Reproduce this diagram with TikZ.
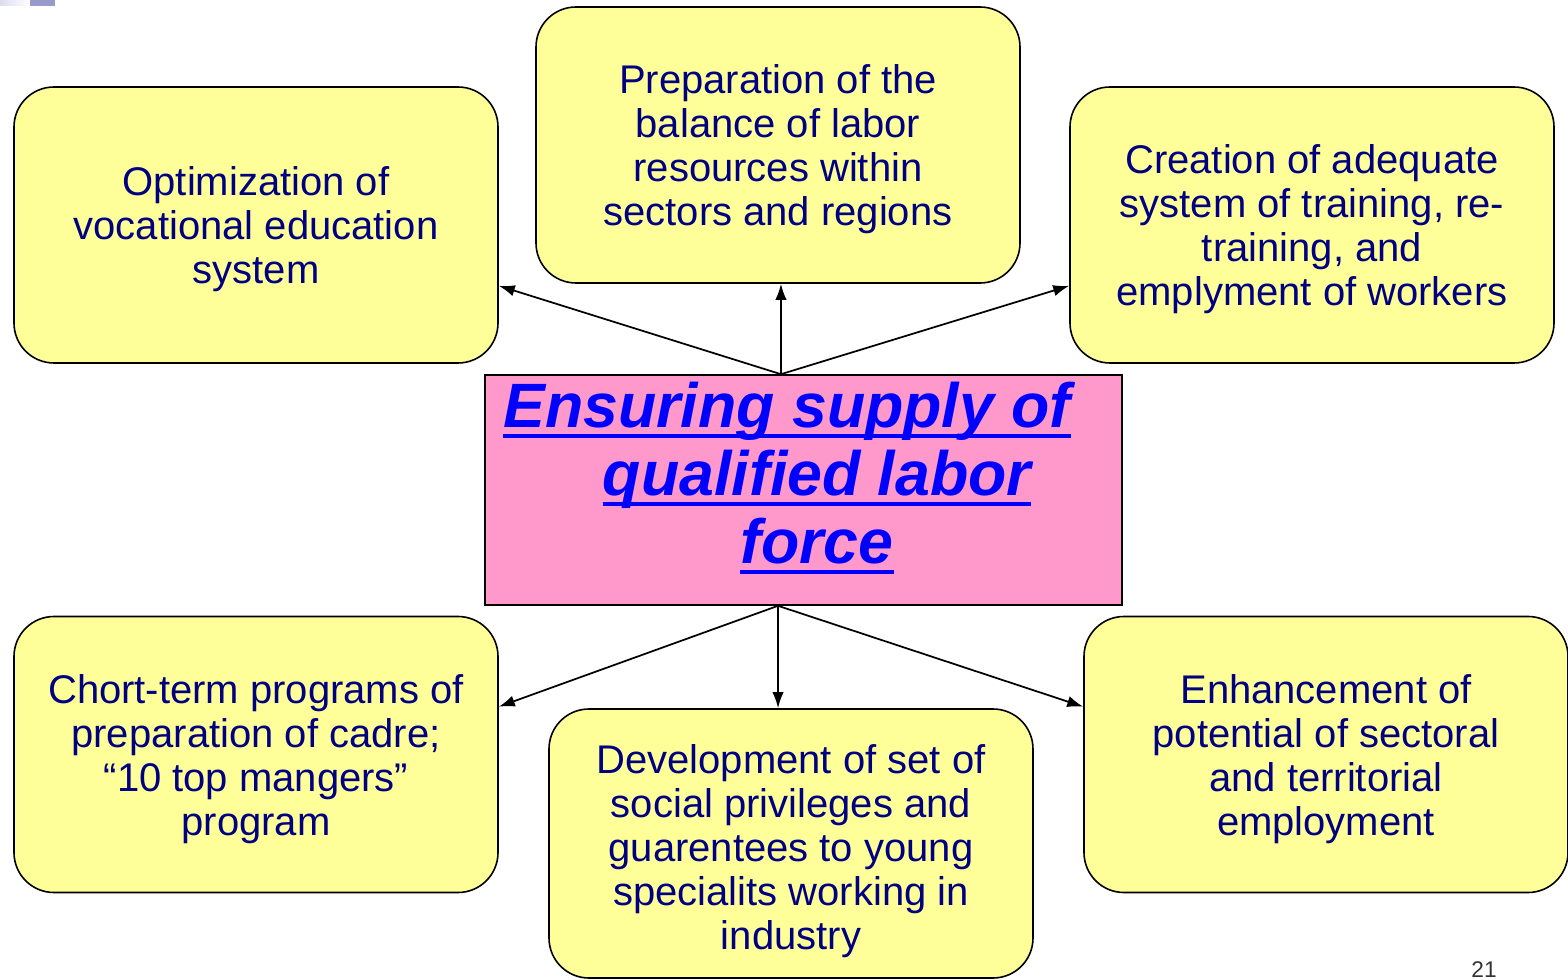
\documentclass[tikz,border=0pt]{standalone}
\usepackage{fontspec}
\setmainfont{Liberation Sans}
\usetikzlibrary{arrows.meta,calc}
\definecolor{boxyellow}{HTML}{FFFF99}
\definecolor{boxpink}{HTML}{FF99CC}
\definecolor{navytext}{HTML}{000080}
\definecolor{titleblue}{HTML}{0000FF}
\definecolor{decopurple}{HTML}{9999CC}
\definecolor{decolight}{HTML}{DCDCEE}
\newcommand\myul[1]{\setbox0\hbox{#1}\rlap{\rule[-8.3pt]{\wd0}{3pt}}\box0}
\newcommand\topstrut{\rule{0pt}{28pt}}
\newcommand\tallstrut{\rule{0pt}{33pt}}
\tikzset{
  ybox/.style={draw=black, line width=1.2pt, fill=boxyellow, rounded corners=30pt,
    minimum width=363pt, minimum height=207pt, align=center, text=navytext,
    font=\fontsize{30pt}{33pt}\selectfont, inner sep=0pt},
  pbox/.style={draw=black, line width=1.2pt, fill=boxpink, minimum width=477.75pt,
    minimum height=172.5pt, inner sep=0pt},
  titletext/.style={text=titleblue, font=\fontsize{47pt}{51pt}\selectfont\bfseries\itshape,
    align=center, inner sep=0pt},
  arr/.style={line width=1.3pt, -{Latex[length=12pt,width=8.5pt]}},
}
\begin{document}
\begin{tikzpicture}[x=0.75pt,y=-0.75pt]
\useasboundingbox (0,0) rectangle (1568,980);
% decoration top-left
\shade[left color=decolight, right color=white] (0,0) rectangle (30,6);
\fill[decopurple] (30,0) rectangle (55,6);
% boxes
\node[ybox] (tl) at (256,225) {\topstrut Optimization of\\vocational education\\system};
\node[ybox] (tc) at (778,145) {\topstrut Preparation of the\\balance of labor\\resources within\\sectors and regions};
\node[ybox] (tr) at (1312,225) {\topstrut Creation of adequate\\system of training, re-\\training, and\\emplyment of workers};
\node[ybox] (bl) at (256,754.5) {\topstrut Chort-term programs of\\preparation of cadre;\\“10 top mangers”\\program};
\node[ybox, minimum height=201.75pt] (bc) at (791,843.5) {\tallstrut Development of set of\\social privileges and\\guarentees to young\\specialits working in\\industry};
\node[ybox] (br) at (1326,754.5) {\topstrut Enhancement of\\potential of sectoral\\and territorial\\employment};
\node[pbox] (center) at (803.5,490) {};
\node[titletext] (title) at (817,478)
  {\myul{Ensuring supply of}\hspace*{45pt}\\\myul{qualified labor}\\\myul{force}};
% connector points
\coordinate (ctop) at ([xshift=-16.9pt]center.north);
\coordinate (cbot) at ([xshift=-19.1pt]center.south);
\coordinate (tlend) at ([yshift=58.5pt]tl.south east);
\coordinate (trend) at ([yshift=58.5pt]tr.south west);
\coordinate (tcend) at (ctop |- tc.south);
\coordinate (blend) at ([yshift=-68.25pt]bl.north east);
\coordinate (brend) at ([yshift=-68.25pt]br.north west);
\coordinate (bcend) at (cbot |- bc.north);
\draw[arr] (ctop) -- (tlend);
\draw[arr] (ctop) -- (tcend);
\draw[arr] (ctop) -- (trend);
\draw[arr] (cbot) -- (blend);
\draw[arr] (cbot) -- (bcend);
\draw[arr] (cbot) -- (brend);
% page number
\node[anchor=base, text=black!80, font=\fontsize{17pt}{18pt}\selectfont, inner sep=0pt] (pagenum) at (1484,977) {21};
\end{tikzpicture}
\end{document}
